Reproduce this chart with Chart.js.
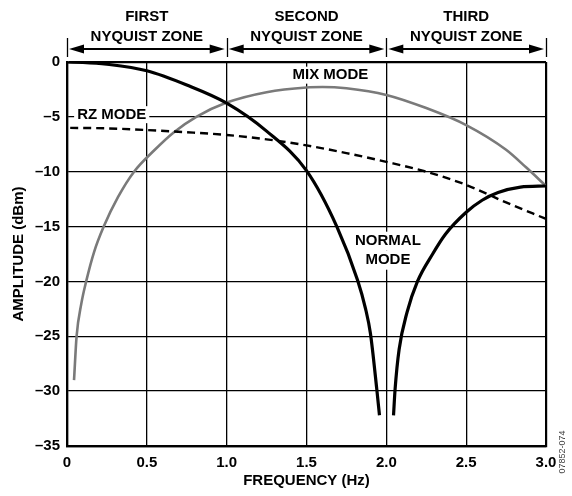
<!DOCTYPE html>
<html>
<head>
<meta charset="utf-8">
<script src="https://cdn.jsdelivr.net/npm/chart.js@4.4.1/dist/chart.umd.min.js"></script>
<style>
	html, body { margin: 0; padding: 0; background: #ffffff; }
	#wrap { width: 572px; height: 496px; position: relative; }
</style>
</head>
<body>
<div id="wrap"><canvas id="chart" width="572" height="496"></canvas></div>
<script>
// values
const normalFreq = [0, 0.1, 0.25, 0.5, 0.75, 1.0, 1.25, 1.5, 1.69, 1.82, 1.87, 1.9, 1.94, 1.957, 2.0, 2.045, 2.055, 2.08, 2.13, 2.195, 2.29, 2.37, 2.5, 2.6, 2.7, 2.84, 3.0];
const normalAmp  = [0, -0.03, -0.2, -0.8, -2.1, -3.75, -6.3, -9.9, -15, -19.9, -22.5, -24.7, -29.8, -32.2, null, -32.2, -29.8, -26.2, -22.8, -20, -17.5, -15.7, -13.7, -12.6, -11.9, -11.4, -11.3];

const rzFreq = [0.02, 0.25, 0.5, 0.75, 1.0, 1.25, 1.5, 1.75, 2.0, 2.25, 2.5, 2.75, 3.0];
const rzAmp  = [-6.0, -6.05, -6.2, -6.4, -6.65, -7.05, -7.6, -8.3, -9.1, -10.0, -11.2, -12.8, -14.3];

const mixFreq = [0.044, 0.06, 0.09, 0.12, 0.17, 0.23, 0.32, 0.42, 0.55, 0.67, 0.81, 1.0, 1.25, 1.5, 1.6, 1.75, 2.0, 2.25, 2.5, 2.75, 2.875, 3.0];
const mixAmp  = [-29, -25, -22, -20, -17.3, -15, -12.3, -10, -8, -6.4, -5, -3.7, -2.75, -2.32, -2.28, -2.4, -3.0, -4.2, -5.75, -8.0, -9.6, -11.3];

const zoneNames = [["FIRST", "NYQUIST ZONE"], ["SECOND", "NYQUIST ZONE"], ["THIRD", "NYQUIST ZONE"]];
const zoneEdges = [0, 1, 2, 3];

const FONT = "'Liberation Sans', Arial, sans-serif";

function toPoints(xs, ys)
{
	let pts = [];
	for(let i = 0; i < xs.length; i++)
		pts.push({ x : xs[i], y : ys[i] });
	return pts;
}

function arrowHead(ctx, x, y, dir)
{
	ctx.beginPath();
	ctx.moveTo(x, y);
	ctx.lineTo(x - dir * 15, y - 4.5);
	ctx.lineTo(x - dir * 15, y + 4.5);
	ctx.closePath();
	ctx.fill();
}

// text lines on white so the grid is broken behind them
function boxedLabel(ctx, lines, cx, cy, lh)
{
	ctx.font = "bold 15px " + FONT;
	ctx.textAlign = "center";
	ctx.textBaseline = "middle";
	let h = lines.length * lh;
	for(let i = 0; i < lines.length; i++)
	{
		let ly = cy - h / 2 + lh * (i + 0.5);
		let w = ctx.measureText(lines[i]).width;
		ctx.fillStyle = "#ffffff";
		ctx.fillRect(cx - w / 2 - 3, ly - lh / 2, w + 6, lh);
		ctx.fillStyle = "#000000";
		ctx.fillText(lines[i], cx, ly);
	}
}

const annotations = {
	id : "annotations",
	afterDatasetsDraw(chart)
	{
		const ctx = chart.ctx;
		const xs = chart.scales.x;
		const ys = chart.scales.y;
		ctx.save();
		boxedLabel(ctx, ["RZ MODE"], xs.getPixelForValue(0.28), ys.getPixelForValue(-4.8), 17);
		boxedLabel(ctx, ["NORMAL", "MODE"], xs.getPixelForValue(2.01), ys.getPixelForValue(-17.2), 19);
		boxedLabel(ctx, ["MIX MODE"], xs.getPixelForValue(1.65), ys.getPixelForValue(-1.2), 17);
		ctx.restore();
	},
	afterDraw(chart)
	{
		const ctx = chart.ctx;
		const xs = chart.scales.x;
		ctx.save();
		ctx.strokeStyle = "#000000";
		ctx.fillStyle = "#000000";
		ctx.lineWidth = 1.3;
		for(let e of zoneEdges)
		{
			let px = Math.round(xs.getPixelForValue(e)) + 0.5;
			ctx.beginPath();
			ctx.moveTo(px, 38);
			ctx.lineTo(px, 57);
			ctx.stroke();
		}
		ctx.lineWidth = 2;
		for(let i = 0; i < zoneNames.length; i++)
		{
			let a = xs.getPixelForValue(zoneEdges[i]) + 2;
			let b = xs.getPixelForValue(zoneEdges[i + 1]) - 2;
			ctx.beginPath();
			ctx.moveTo(a + 10, 49);
			ctx.lineTo(b - 10, 49);
			ctx.stroke();
			arrowHead(ctx, a, 49, -1);
			arrowHead(ctx, b, 49, 1);
			ctx.font = "bold 15px " + FONT;
			ctx.textAlign = "center";
			ctx.textBaseline = "middle";
			ctx.fillText(zoneNames[i][0], (a + b) / 2, 17);
			ctx.fillText(zoneNames[i][1], (a + b) / 2, 37);
		}
		// figure number
		ctx.translate(563, 452);
		ctx.rotate(-Math.PI / 2);
		ctx.font = "9px " + FONT;
		ctx.fillStyle = "#444444";
		ctx.fillText("07852-074", 0, 0);
		ctx.restore();
	}
};

function gridWidth(c)
{
	let t = c.tick;
	if(t && (t.value === c.scale.min || t.value === c.scale.max))
		return 2.2;
	return 1.3;
}

new Chart(document.getElementById("chart").getContext("2d"),
{
	type : "line",
	data :
	{
		datasets :
		[{
			label : "Normal mode",
			data : toPoints(normalFreq, normalAmp),
			borderColor : "#000000",
			borderWidth : 3.2,
			pointRadius : 0,
			cubicInterpolationMode : "monotone",
			spanGaps : false
		},
		{
			label : "RZ mode",
			data : toPoints(rzFreq, rzAmp),
			borderColor : "#000000",
			borderWidth : 2.4,
			borderDash : [8, 5],
			pointRadius : 0,
			cubicInterpolationMode : "monotone"
		},
		{
			label : "Mix mode",
			data : toPoints(mixFreq, mixAmp),
			borderColor : "#7a7a7a",
			borderWidth : 2.6,
			pointRadius : 0,
			cubicInterpolationMode : "monotone"
		}]
	},
	options :
	{
		responsive : false,
		animation : false,
		layout : { padding : { top : 62, right : 26, left : 0, bottom : 0 } },
		plugins : { legend : { display : false }, tooltip : { enabled : false } },
		scales :
		{
			x :
			{
				type : "linear",
				min : 0,
				max : 3,
				afterFit : (s) => { s.height = 50; },
				border : { display : true, color : "#000000", width : 2.2 },
				grid : { color : "#000000", lineWidth : gridWidth, drawTicks : false },
				ticks :
				{
					stepSize : 0.5,
					padding : 8,
					color : "#000000",
					font : { family : FONT, size : 15, weight : "bold" },
					maxRotation : 0,
					callback : (v) => v === 0 ? "0" : v.toFixed(1)
				},
				title :
				{
					display : true,
					text : "FREQUENCY (Hz)",
					color : "#000000",
					font : { family : FONT, size : 15, weight : "bold" },
					padding : { top : 0, bottom : 6 }
				}
			},
			y :
			{
				min : -35,
				max : 0,
				afterFit : (s) => { s.width = 67; },
				border : { display : true, color : "#000000", width : 2.2 },
				grid : { color : "#000000", lineWidth : gridWidth, drawTicks : false },
				ticks :
				{
					stepSize : 5,
					padding : 7,
					color : "#000000",
					font : { family : FONT, size : 15, weight : "bold" },
					callback : (v) => v === 0 ? "0" : "\u2013" + Math.abs(v)
				},
				title :
				{
					display : true,
					text : "AMPLITUDE (dBm)",
					color : "#000000",
					font : { family : FONT, size : 15, weight : "bold" },
					padding : { top : 10, bottom : 0 }
				}
			}
		}
	},
	plugins : [annotations]
});
</script>
</body>
</html>
